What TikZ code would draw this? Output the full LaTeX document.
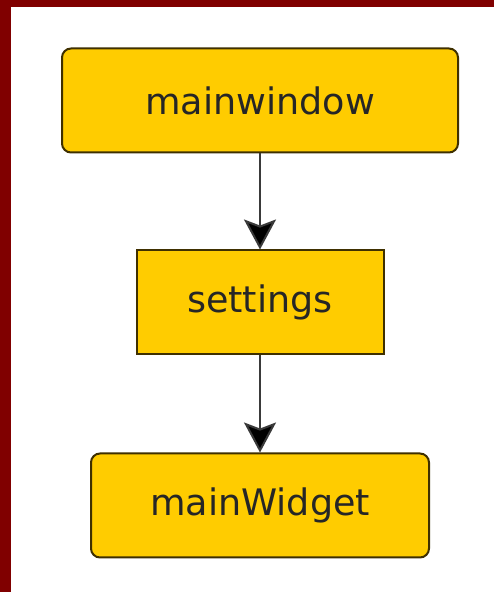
\documentclass[tikz,border=0pt]{standalone}
\usepackage{fontspec}
\setmainfont{DejaVu Sans}
\usepackage{tikz}
\usetikzlibrary{arrows.meta,positioning}
\usepackage{xcolor}
\definecolor{frame}{HTML}{800000}
\definecolor{gold}{HTML}{FFCC00}
\definecolor{boxedge}{HTML}{3F3000}
\definecolor{linkgrey}{HTML}{3A3A3A}

\begin{document}
\begin{tikzpicture}
        [   x = 1pt
        ,   y = 1pt
        ,   box/.style =
            {   draw = boxedge
            ,   fill = gold
            ,   line width = 2pt
            ,   minimum height = 104pt
            ,   font = \fontsize{36.5}{40}\selectfont
            ,   text = black!85
            }
        ,   roundbox/.style =
            {   box
            ,   rounded corners = 9pt
            }
        ,   link/.style =
            {   draw = linkgrey
            ,   line width = 2pt
            ,   -{Stealth[length=30pt, width=32pt, inset=6pt, fill=black]}
            }
        ]
        \useasboundingbox (0,0) rectangle (494,592);
        \fill[white] (0,0) rectangle (494,592);
        % frame on the top and left
        \fill[frame] (0,0) rectangle (11,592);
        \fill[frame] (0,585) rectangle (494,592);

        \node[roundbox, minimum width = 396pt] (mainwindow) at (260,491.5) {mainwindow};
        \node[box, minimum width = 247pt, below = 96pt of mainwindow] (settings) {settings};
        \node[roundbox, minimum width = 338pt, below = 97pt of settings] (mainWidget) {mainWidget};

        \draw[link] (mainwindow) -- (settings);
        \draw[link] (settings) -- (mainWidget);
    \end{tikzpicture}
\end{document}
